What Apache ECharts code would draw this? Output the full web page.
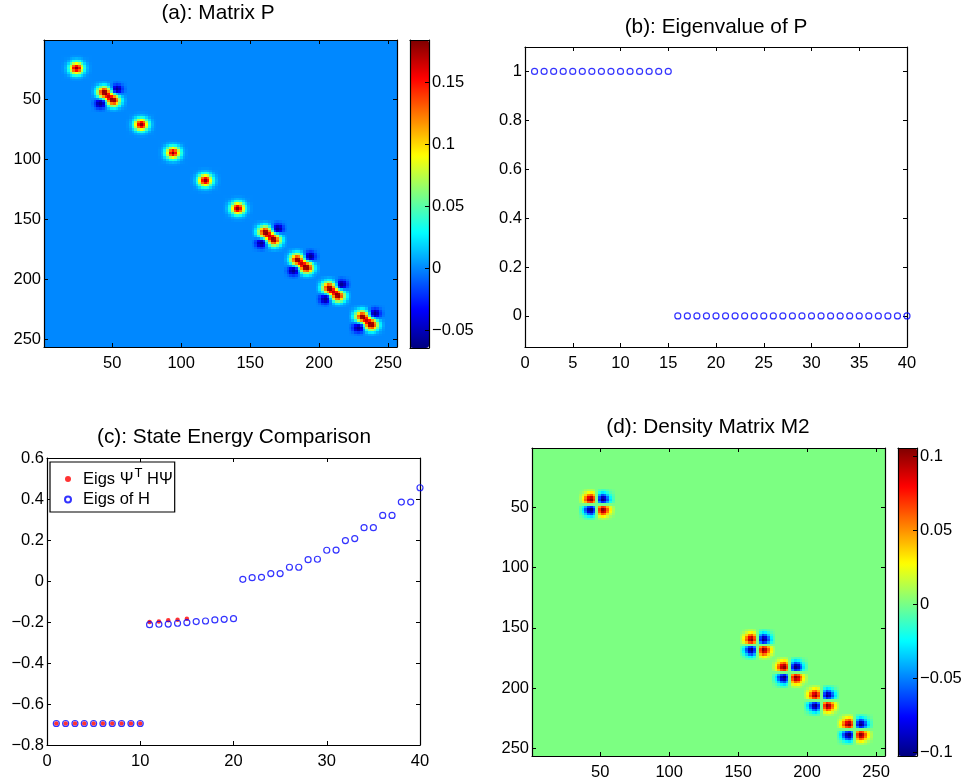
<!DOCTYPE html>
<html><head><meta charset="utf-8">
<style>html,body{margin:0;padding:0;background:#fff}#c{width:967px;height:783px}</style>
<script src="https://cdn.jsdelivr.net/npm/echarts@6/dist/echarts.min.js"></script>
</head><body><div id="c"></div>
<script>
// ---------- data ----------
const patchOffsetsSmall = [-10,-8,-6,-4,-2,0,2,4,6,8,10];
const patchOffsets = [-12,-10,-8,-6,-4,-2,0,2,4,6,8,10,12];
const singleCenters = [[24,24],[71,71],[94,94.5],[117.5,117.5],[141,141]];
const doubleCenters = [[47.5,47.5],[164,164],[187.5,187],[210.5,210.5],[234.5,234.5]];
const singlePatch = [
 [0,0,0,.001,.002,.002,.002,.001,0,0,0],
 [0,.001,.002,.006,.009,.011,.009,.006,.002,.001,0],
 [0,.002,.008,.019,.032,.038,.032,.019,.008,.002,0],
 [.001,.006,.019,.045,.075,.09,.075,.045,.019,.006,.001],
 [.002,.009,.032,.075,.127,.151,.127,.075,.032,.009,.002],
 [.002,.011,.038,.09,.151,.18,.151,.09,.038,.011,.002],
 [.002,.009,.032,.075,.127,.151,.127,.075,.032,.009,.002],
 [.001,.006,.019,.045,.075,.09,.075,.045,.019,.006,.001],
 [0,.002,.008,.019,.032,.038,.032,.019,.008,.002,0],
 [0,.001,.002,.006,.009,.011,.009,.006,.002,.001,0],
 [0,0,0,.001,.002,.002,.002,.001,0,0,0]];
const doublePatch = [
 [0,.001,.003,.005,.007,.006,.003,0,-.004,-.006,-.004,-.002,-.001],
 [.001,.004,.01,.02,.026,.024,.013,-.002,-.015,-.02,-.016,-.007,-.002],
 [.003,.01,.028,.052,.068,.063,.036,.001,-.035,-.05,-.04,-.016,-.004],
 [.005,.02,.052,.097,.13,.121,.074,.015,-.045,-.06,-.05,-.02,-.006],
 [.007,.026,.068,.13,.178,.173,.115,.044,-.02,-.045,-.035,-.015,-.004],
 [.006,.024,.063,.121,.173,.18,.149,.091,.044,.015,.001,-.002,0],
 [.003,.013,.036,.074,.115,.149,.166,.149,.115,.074,.036,.013,.003],
 [0,-.002,.001,.015,.044,.091,.149,.18,.173,.121,.063,.024,.006],
 [-.004,-.015,-.035,-.045,-.02,.044,.115,.173,.178,.13,.068,.026,.007],
 [-.006,-.02,-.05,-.06,-.045,.015,.074,.121,.13,.097,.052,.02,.005],
 [-.004,-.016,-.04,-.05,-.035,.001,.036,.063,.068,.052,.028,.01,.003],
 [-.002,-.007,-.016,-.02,-.015,-.002,.013,.024,.026,.02,.01,.004,.001],
 [-.001,-.002,-.004,-.006,-.004,0,.003,.006,.007,.005,.003,.001,0]];
const quadPatch = [
 [.001,.003,.007,.01,.011,.008,0,-.008,-.011,-.01,-.007,-.003,-.001],
 [.003,.008,.017,.026,.03,.02,0,-.02,-.03,-.026,-.017,-.008,-.003],
 [.007,.017,.034,.053,.06,.041,0,-.041,-.06,-.053,-.034,-.017,-.007],
 [.01,.026,.053,.083,.092,.063,0,-.063,-.092,-.083,-.053,-.026,-.01],
 [.011,.03,.06,.092,.103,.07,0,-.07,-.103,-.092,-.06,-.03,-.011],
 [.008,.02,.041,.063,.07,.048,0,-.048,-.07,-.063,-.041,-.02,-.008],
 [0,0,0,0,0,0,0,0,0,0,0,0,0],
 [-.008,-.02,-.041,-.063,-.07,-.048,0,.048,.07,.063,.041,.02,.008],
 [-.011,-.03,-.06,-.092,-.103,-.07,0,.07,.103,.092,.06,.03,.011],
 [-.01,-.026,-.053,-.083,-.092,-.063,0,.063,.092,.083,.053,.026,.01],
 [-.007,-.017,-.034,-.053,-.06,-.041,0,.041,.06,.053,.034,.017,.007],
 [-.003,-.008,-.017,-.026,-.03,-.02,0,.02,.03,.026,.017,.008,.003],
 [-.001,-.003,-.007,-.01,-.011,-.008,0,.008,.011,.01,.007,.003,.001]];
const stateIndex = [1,2,3,4,5,6,7,8,9,10,11,12,13,14,15,16,17,18,19,20,21,22,23,24,25,26,27,28,29,30,31,32,33,34,35,36,37,38,39,40];
const eigP = [1,1,1,1,1,1,1,1,1,1,1,1,1,1,1,0,0,0,0,0,0,0,0,0,0,0,0,0,0,0,0,0,0,0,0,0,0,0,0,0];
const eigsPsi = [-.695,-.695,-.695,-.695,-.695,-.695,-.695,-.695,-.695,-.695,-.2,-.197,-.192,-.189,-.184];
const eigsH = [-.695,-.695,-.695,-.695,-.695,-.695,-.695,-.695,-.695,-.695,-.213,-.211,-.21,-.206,-.203,-.198,-.195,-.19,-.187,-.184,
 .008,.016,.018,.036,.036,.067,.067,.104,.106,.15,.151,.197,.207,.26,.26,.32,.32,.385,.385,.455];
const imageTicks = [50,100,150,200,250];
const barTicksA = [-.05,0,.05,.1,.15];
const barTicksD = [-.1,-.05,0,.05,.1];
const xTicksB = [0,5,10,15,20,25,30,35,40];
const yTicksB = [0,.2,.4,.6,.8,1];
const xTicksC = [0,10,20,30,40];
const yTicksC = [-.8,-.6,-.4,-.2,0,.2,.4,.6];
const jet = ['#00007f','#0000ff','#007fff','#00ffff','#7fff7f','#ffff00','#ff7f00','#ff0000','#7f0000'];
const titles = ['(a): Matrix P','(b): Eigenvalue of P','(c): State Energy Comparison','(d): Density Matrix M2'];

// ---------- assemble ----------
function cells(centers, patch, offs){
  const out=[];
  centers.forEach(c=>patch.forEach((row,j)=>row.forEach((v,i)=>out.push([c[0]+offs[i],c[1]+offs[j],v]))));
  return out;
}
const matP = cells(singleCenters,singlePatch,patchOffsetsSmall).concat(cells(doubleCenters,doublePatch,patchOffsets));
const matM = cells(doubleCenters,quadPatch,patchOffsets);
const FONT='"Liberation Sans",Arial,sans-serif';
const fmt=v=>String(v).replace('-','\u2212');
const grids=[],xAxes=[],yAxes=[];
function panel(rect,xr,yr,xt,yt,o){
  o=o||{};
  const g=grids.length;
  grids.push({left:rect[0],top:rect[1],width:rect[2],height:rect[3],show:!!o.bg,backgroundColor:o.bg||'transparent',borderWidth:0});
  const line={show:true,onZero:false,lineStyle:{color:'#000',width:1.2}};
  const mk=(r,t,pos,lab,inv,tick,margin)=>({type:'value',gridIndex:g,min:r[0],max:r[1],position:pos,inverse:!!inv,z:o.z||0,
    axisLine:line,splitLine:{show:false},minorTick:{show:false},
    axisTick:{show:tick,inside:true,length:4,customValues:t,lineStyle:{color:'#000',width:1}},
    axisLabel:{show:lab,customValues:t,margin,formatter:fmt,fontFamily:FONT,fontSize:16.5,color:'#000',hideOverlap:false}});
  xAxes.push(mk(xr,xt,'bottom',xt.length>0,false,xt.length>0,8));
  xAxes.push(mk(xr,xt,'top',false,false,xt.length>0,8));
  const labRight=!!o.bar;
  yAxes.push(mk(yr,yt,labRight?'right':'left',true,o.inv,true,3));
  yAxes.push(mk(yr,yt,labRight?'left':'right',false,o.inv,!labRight,3));
  return {xAxisIndex:g*2,yAxisIndex:g*2};
}
const A=panel([44,40,353,307],[.5,256.5],[.5,256.5],imageTicks,imageTicks,{inv:true,bg:'#0088ff'});
const B=panel([525,47,382,300],[0,40],[-.127,1.1],xTicksB,yTicksB);
const C=panel([47,458,373,287],[0,40],[-.8,.6],xTicksC,yTicksC);
const D=panel([532,448,353,308],[.5,256.5],[.5,256.5],imageTicks,imageTicks,{inv:true,bg:'#7cff82'});
panel([410,40,19,308],[0,1],[-.0645,.184],[],barTicksA,{bar:true,z:6});
panel([898,448,19,308],[0,1],[-.1027,.1054],[],barTicksD,{bar:true,z:6});

function heat(ax,data){
  return Object.assign({type:'custom',data,encode:{x:0,y:1},silent:true,clip:true,
    renderItem(p,api){
      const x=api.value(0),y=api.value(1);
      const a=api.coord([x-1,y-1]),b=api.coord([x+1,y+1]);
      const x0=Math.round(a[0]),y0=Math.round(a[1]),x1=Math.round(b[0]),y1=Math.round(b[1]);
      return {type:'rect',shape:{x:x0,y:y0,width:x1-x0,height:y1-y0},style:{fill:api.visual('color')}};
    }},ax);
}
const pairs=(xs,ys)=>ys.map((y,i)=>[xs[i],y]);
const dot=(ax,name,data,size,style,z)=>Object.assign({type:'scatter',name,data,symbol:'circle',symbolSize:size,clip:false,silent:true,itemStyle:style,z},ax);
const ring={color:'rgba(0,0,0,0)',borderColor:'#0000ff',borderWidth:1.2};

const option={
  animation:false,backgroundColor:'#fff',tooltip:{show:false},
  title:[[218,3],[716,17],[234,427],[708,417]].map((p,i)=>({text:titles[i],left:p[0],top:p[1],textAlign:'center',padding:0,
    textStyle:{fontFamily:FONT,fontSize:20.8,fontWeight:'normal',color:'#000'}})),
  grid:grids,xAxis:xAxes,yAxis:yAxes,
  legend:{show:true,left:50,top:462,orient:'vertical',padding:[5,2,4,14],itemGap:3,itemWidth:6,itemHeight:6,
    backgroundColor:'#fff',borderColor:'#000',borderWidth:1.2,z:8,
    data:['psi','H'],
    formatter:n=>n==='psi'?'{p|Eigs \u03a8}{s|T}{a| H\u03a8}':'{p|Eigs of H}',
    textStyle:{rich:{a:{fontFamily:FONT,fontSize:16.5,color:'#000',height:24},p:{fontFamily:FONT,fontSize:16.5,color:'#000',height:24,padding:[0,0,0,7]},s:{fontFamily:FONT,fontSize:13,color:'#000',verticalAlign:'top',lineHeight:12,padding:[0,0,8,1]}}}},
  visualMap:[
    {type:'continuous',seriesIndex:0,dimension:2,min:-.0645,max:.184,left:410,top:40,itemWidth:19,itemHeight:308,padding:0,text:null,showLabel:false,calculable:false,hoverLink:false,inRange:{color:jet},z:4},
    {type:'continuous',seriesIndex:1,dimension:2,min:-.1027,max:.1054,left:898,top:448,itemWidth:19,itemHeight:308,padding:0,text:null,showLabel:false,calculable:false,hoverLink:false,inRange:{color:jet},z:4}
  ],
  series:[
    heat(A,matP),
    heat(D,matM),
    dot(B,'eig',pairs(stateIndex,eigP),6,ring,3),
    dot(C,'psi',pairs(stateIndex,eigsPsi),4.5,{color:'#ff0000'},3),
    dot(C,'H',pairs(stateIndex,eigsH),6,ring,4)
  ]
};
echarts.init(document.getElementById('c'),null,{renderer:'canvas'}).setOption(option);
</script></body></html>
